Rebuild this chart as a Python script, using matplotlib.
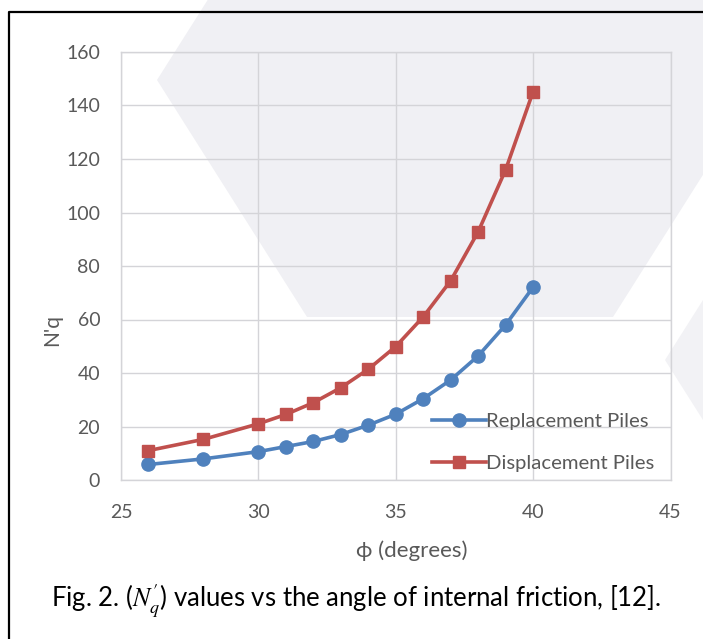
import matplotlib
matplotlib.use('Agg')
import matplotlib.pyplot as plt
from matplotlib.patches import Polygon
from matplotlib.lines import Line2D

plt.rcParams['font.family'] = ['Lato', 'DejaVu Sans']
plt.rcParams['mathtext.fontset'] = 'stix'

# ── data ──
phi = [26, 28, 30, 31, 32, 33, 34, 35, 36, 37, 38, 39, 40]
replacement = [5.8, 7.9, 10.6, 12.5, 14.4, 17.0, 20.5, 24.6, 30.4, 37.4, 46.4, 58.0, 72.1]
displacement = [11.0, 15.2, 21.0, 24.5, 28.9, 34.5, 41.4, 49.9, 61.0, 74.5, 92.8, 116.0, 145.2]
x_ticks = [25, 30, 35, 40, 45]
y_ticks = [0, 20, 40, 60, 80, 100, 120, 140, 160]

W, H = 703, 639
fig = plt.figure(figsize=(W / 100, H / 100), dpi=100, facecolor='white')

def px(pts):
    return [(x / W, 1 - y / H) for x, y in pts]

# faint watermark hexagons behind the chart
fig.patches.append(Polygon(px([(157, 80), (307, 317), (613, 317), (763, 80), (613, -157), (307, -157)]),
                           closed=True, transform=fig.transFigure, facecolor='#f0f0f4', edgecolor='none', zorder=-10))
fig.patches.append(Polygon(px([(665, 360), (815, 597), (965, 597), (965, 123), (815, 123)]),
                           closed=True, transform=fig.transFigure, facecolor='#f2f2f5', edgecolor='none', zorder=-10))

# frame line (left and top)
fig.add_artist(Line2D([9 / W, 9 / W, 1.0], [0.0, 1 - 11.5 / H, 1 - 11.5 / H], transform=fig.transFigure,
                      color='black', linewidth=1.6, zorder=1))

ax = fig.add_axes([121 / W, 1 - 480 / H, 549.5 / W, 428 / H])
ax.set_zorder(2)
ax.patch.set_alpha(0)

blue = '#4f81bd'
red = '#c0504d'
ax.plot(phi, replacement, color=blue, linewidth=2.6, marker='o', markersize=9.5,
        label='Replacement Piles', zorder=4)
ax.plot(phi, displacement, color=red, linewidth=2.6, marker='s', markersize=8.5,
        label='Displacement Piles', zorder=4)

ax.set_xlim(25, 45)
ax.set_ylim(0, 160)
ax.set_xticks(x_ticks)
ax.set_yticks(y_ticks)
ax.grid(True, color='#d4d4d8', linewidth=1.0)
ax.set_axisbelow(True)
for s in ax.spines.values():
    s.set_color('#d4d4d8')
    s.set_linewidth(1.0)
ax.tick_params(length=0, colors='#595959', labelsize=14)
ax.tick_params(axis='x', pad=17)
ax.tick_params(axis='y', pad=15)

ax.set_xlabel('ϕ (degrees)', fontsize=16, color='#595959')
ax.xaxis.set_label_coords(0.53, -0.14)
ax.set_ylabel("N'q", fontsize=15, color='#595959')
ax.yaxis.set_label_coords(-0.108, 0.35)

leg = ax.legend(loc='lower right', bbox_to_anchor=(0.995, -0.012), frameon=False, fontsize=14.6,
                handlelength=2.7, handletextpad=0.0, labelspacing=1.2, borderaxespad=0.25)
for t in leg.get_texts():
    t.set_color('#595959')

fig.text(356 / W, 1 - 601 / H, "Fig. 2. ($N_q^{\\prime}$) values vs the angle of internal friction, [12].",
         ha='center', va='center', fontsize=18.5, color='black')

fig.savefig('out.png', dpi=100, facecolor='white')
